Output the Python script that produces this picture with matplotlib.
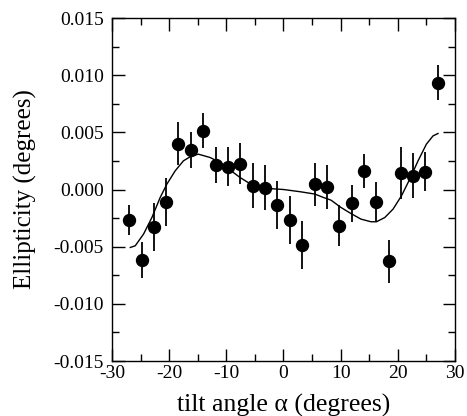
import matplotlib
matplotlib.use('Agg')
import matplotlib.pyplot as plt
from matplotlib.ticker import MultipleLocator

# measured points
tilt = [-26.98, -24.76, -22.67, -20.52, -18.37, -16.21, -14.01, -11.84, -9.75,
        -7.60, -5.38, -3.23, -1.08, 1.13, 3.28, 5.45, 7.59, 9.74, 11.91, 14.05,
        16.20, 18.37, 20.52, 22.66, 24.83, 27.03]
ellip = [-0.00265, -0.00615, -0.00332, -0.00108, 0.00402, 0.00347, 0.00516,
         0.00216, 0.00201, 0.00225, 0.00035, 0.00017, -0.00136, -0.00265,
         -0.00483, 0.00044, 0.00021, -0.00317, -0.00122, 0.00161, -0.00105,
         -0.00629, 0.00143, 0.00122, 0.00155, 0.00935]
err = [0.0013, 0.0016, 0.0021, 0.0021, 0.0019, 0.0016, 0.0015, 0.0016, 0.0017,
       0.0018, 0.0020, 0.0020, 0.0021, 0.0021, 0.0021, 0.0019, 0.0019, 0.0018,
       0.0016, 0.0015, 0.0017, 0.0019, 0.0023, 0.0020, 0.0017, 0.0015]

# fitted curve
fit_x = [-26.8, -25.93, -24.48, -23.02, -21.57, -20.40, -18.95, -17.50, -16.03,
         -14.88, -12.84, -11.09, -8.77, -7.60, -5.5, -3.0, 0.0, 3.0, 5.5, 7.0,
         8.31, 10.05, 11.80, 13.55, 15.30, 16.27, 17.72, 19.17, 20.64, 22.09,
         23.54, 25.00, 26.16, 27.03]
fit_y = [-0.00507, -0.00492, -0.00390, -0.00245, -0.00070, 0.00047, 0.00163,
         0.00251, 0.00295, 0.00309, 0.00280, 0.00236, 0.00149, 0.00105, 0.0004,
         0.0001, 0.0, -0.0002, -0.0004, -0.0007, -0.00093, -0.00157, -0.00210,
         -0.00259, -0.00282, -0.00282, -0.00245, -0.00171, -0.00055, 0.00091,
         0.00251, 0.00397, 0.00469, 0.00490]

plt.rcParams['font.family'] = ['Liberation Serif', 'DejaVu Serif']
plt.rcParams['axes.unicode_minus'] = False

fig = plt.figure(figsize=(4.67, 4.16), dpi=100)
ax = fig.add_axes([0.2398, 0.1322, 0.7345, 0.8245])

ax.plot(fit_x, fit_y, color='black', lw=1.0)
ax.errorbar(tilt, ellip, yerr=err, fmt='o', color='black', ms=8.6,
            ecolor='black', elinewidth=1.3, capsize=0)

ax.set_xlim(-30, 30)
ax.set_ylim(-0.015, 0.015)
ax.xaxis.set_major_locator(MultipleLocator(10))
ax.xaxis.set_minor_locator(MultipleLocator(5))
ax.yaxis.set_major_locator(MultipleLocator(0.005))
ax.yaxis.set_minor_locator(MultipleLocator(0.0025))
ax.yaxis.set_major_formatter(plt.FuncFormatter(lambda v, p: f'{v:.3f}'))
ax.tick_params(which='both', direction='in', top=True, right=True,
               labelsize=14)
ax.tick_params(axis='x', pad=3)
ax.tick_params(axis='y', pad=6)
ax.tick_params(which='major', length=9, width=1)
ax.tick_params(which='minor', length=5, width=1)
for s in ax.spines.values():
    s.set_linewidth(1)

ax.set_xlabel('tilt angle α (degrees)', fontsize=18.5, labelpad=0)
ax.set_ylabel('Ellipticity (degrees)', fontsize=18, labelpad=4)
ax.xaxis.set_label_coords(0.5, -0.095)
ax.yaxis.set_label_coords(-0.218, 0.5)

fig.savefig('out.png', dpi=100)
